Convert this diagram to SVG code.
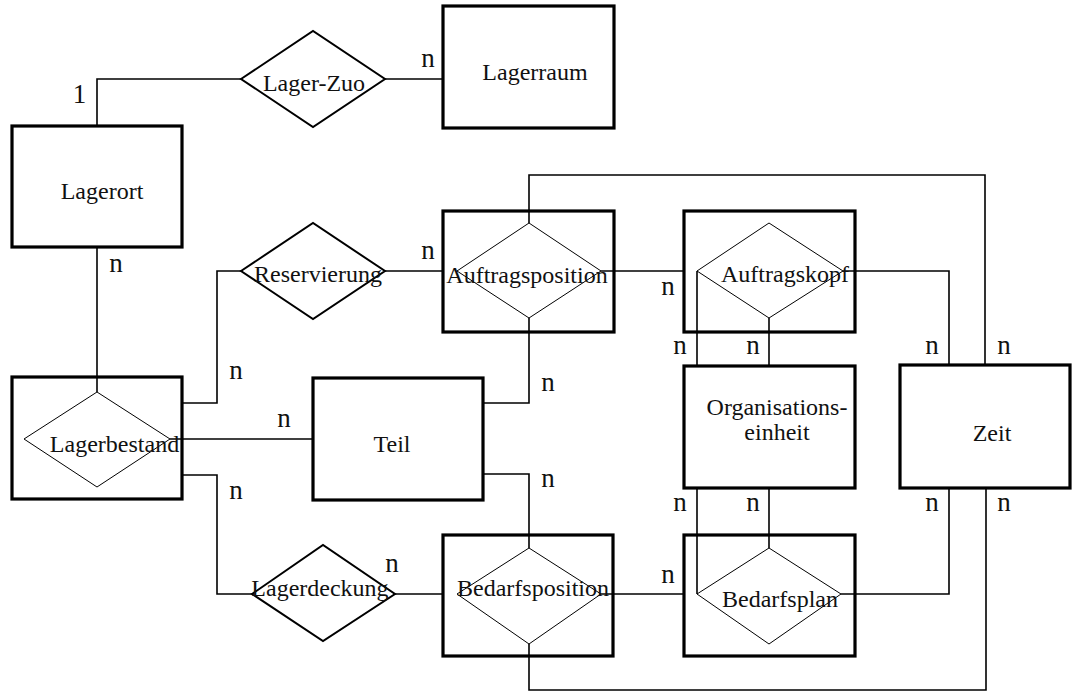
<svg xmlns="http://www.w3.org/2000/svg" width="1073" height="693" viewBox="0 0 1073 693">
<style>
.box{fill:none;stroke:#000;stroke-width:3.2}
.rel{fill:none;stroke:#000;stroke-width:2}
.inner{fill:none;stroke:#000;stroke-width:1}
.con{fill:none;stroke:#000;stroke-width:1.6}
.t{font-family:"Liberation Serif",serif;font-size:24px;fill:#111;text-anchor:middle}
.c{font-family:"Liberation Serif",serif;font-size:27px;fill:#111;text-anchor:middle}
</style>
<rect width="1073" height="693" fill="#fff"/>
<g id="connectors">
<path class="con" d="M97,126 V79 H241"/>
<path class="con" d="M385,79 H443"/>
<path class="con" d="M97,247 V392"/>
<path class="con" d="M182,403 H217 V271 H241"/>
<path class="con" d="M385,271 H443"/>
<path class="con" d="M170,439 H313"/>
<path class="con" d="M182,475 H217 V594 H252"/>
<path class="con" d="M395,594 H443"/>
<path class="con" d="M483,403 H529 V318"/>
<path class="con" d="M483,474 H529 V548"/>
<path class="con" d="M601,271 H684"/>
<path class="con" d="M697,271 V366"/>
<path class="con" d="M769,318 V366"/>
<path class="con" d="M843,271 H949 V365"/>
<path class="con" d="M529,223 V175 H985 V365"/>
<path class="con" d="M697,488 V594"/>
<path class="con" d="M769,488 V548"/>
<path class="con" d="M949,488 V594 H841"/>
<path class="con" d="M986,488 V690 H529 V644"/>
<path class="con" d="M601,594 H684"/>
<text class="c" x="79.5" y="103">1</text>
<text class="c" x="428" y="67">n</text>
<text class="c" x="116" y="272">n</text>
<text class="c" x="236" y="379">n</text>
<text class="c" x="284" y="427">n</text>
<text class="c" x="236" y="499">n</text>
<text class="c" x="428" y="259">n</text>
<text class="c" x="668" y="295">n</text>
<text class="c" x="548" y="391">n</text>
<text class="c" x="548" y="487">n</text>
<text class="c" x="680" y="354">n</text>
<text class="c" x="753" y="354">n</text>
<text class="c" x="932" y="354">n</text>
<text class="c" x="1004" y="354">n</text>
<text class="c" x="680" y="511">n</text>
<text class="c" x="753" y="511">n</text>
<text class="c" x="932" y="511">n</text>
<text class="c" x="1004" y="511">n</text>
<text class="c" x="668" y="583">n</text>
<text class="c" x="392" y="572">n</text>
</g>
<g id="lagerort">
<rect class="box" x="12" y="126" width="170" height="121"/>
<text class="t" x="102" y="199">Lagerort</text>
</g>
<g id="lager-zuo">
<polygon class="rel" points="241,79 313,31 385,79 313,127"/>
<text class="t" x="314" y="91">Lager-Zuo</text>
</g>
<g id="lagerraum">
<rect class="box" x="443" y="6" width="171" height="122"/>
<text class="t" x="535" y="80">Lagerraum</text>
</g>
<g id="reservierung">
<polygon class="rel" points="241,271 313,223 385,271 313,319"/>
<text class="t" x="318" y="282">Reservierung</text>
</g>
<g id="lagerbestand">
<rect class="box" x="12" y="377" width="170" height="122"/>
<polygon class="inner" points="24,439 97,392 170,439 97,487"/>
<text class="t" x="114.5" y="452">Lagerbestand</text>
</g>
<g id="teil">
<rect class="box" x="313" y="378" width="170" height="122"/>
<text class="t" x="392" y="452">Teil</text>
</g>
<g id="auftragsposition">
<rect class="box" x="443" y="211" width="171" height="121"/>
<polygon class="inner" points="457,271 529,223 601,271 529,318"/>
<text class="t" x="527" y="283">Auftragsposition</text>
</g>
<g id="auftragskopf">
<rect class="box" x="684" y="211" width="171" height="121"/>
<polygon class="inner" points="697,271 769,223 843,271 769,318"/>
<text class="t" x="785" y="282">Auftragskopf</text>
</g>
<g id="organisationseinheit">
<rect class="box" x="684" y="366" width="171" height="122"/>
<text class="t" x="777" y="415">Organisations-</text>
<text class="t" x="777" y="440">einheit</text>
</g>
<g id="zeit">
<rect class="box" x="900" y="365" width="170" height="123"/>
<text class="t" x="992" y="441">Zeit</text>
</g>
<g id="lagerdeckung">
<polygon class="rel" points="252,594 323,545 395,594 323,641"/>
<text class="t" x="320" y="596">Lagerdeckung</text>
</g>
<g id="bedarfsposition">
<rect class="box" x="443" y="535" width="170" height="121"/>
<polygon class="inner" points="457,594 529,548 601,594 529,644"/>
<text class="t" x="533" y="596">Bedarfsposition</text>
</g>
<g id="bedarfsplan">
<rect class="box" x="684" y="535" width="171" height="121"/>
<polygon class="inner" points="697,594 769,548 841,594 769,644"/>
<text class="t" x="780" y="607">Bedarfsplan</text>
</g>
</svg>
